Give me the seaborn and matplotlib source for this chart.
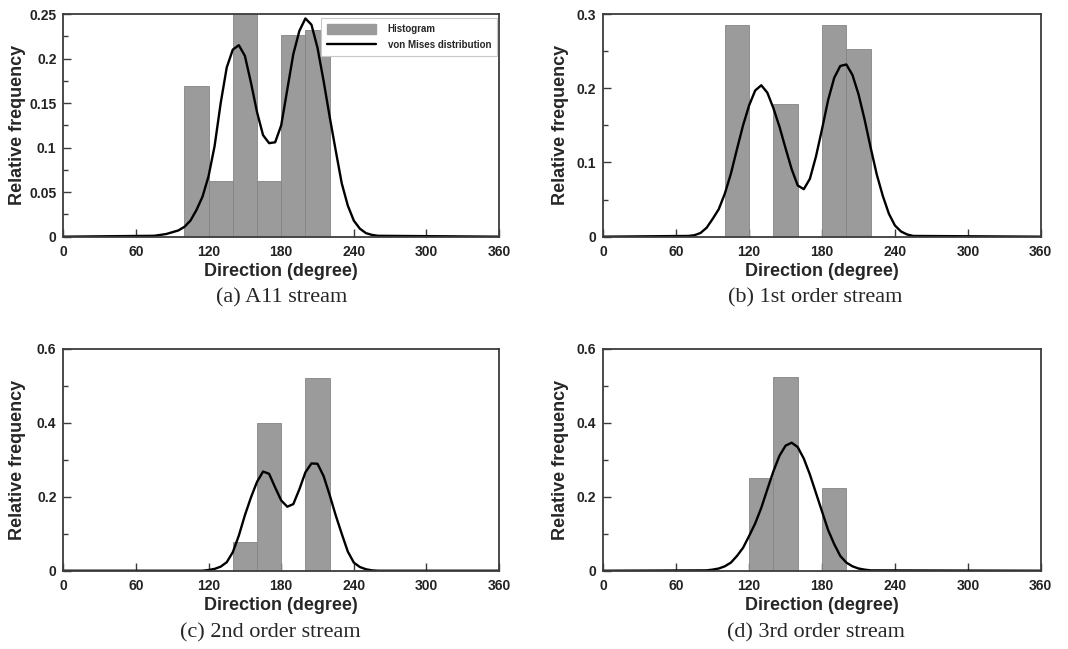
import numpy as np
import matplotlib
matplotlib.use("Agg")
import matplotlib.pyplot as plt
from matplotlib.ticker import AutoMinorLocator
from matplotlib.patches import Patch
from matplotlib.lines import Line2D
import seaborn as sns

# histogram bins (degree), 20 degree classes
bin_edges = [0, 20, 40, 60, 80, 100, 120, 140, 160, 180, 200, 220, 240, 260, 280, 300, 320, 340, 360]

# (a) all streams
a_bins = [110, 130, 150, 170, 190, 210]
a_freq = [0.169, 0.063, 0.256, 0.063, 0.226, 0.232]
a_deg = [0, 75, 80, 85, 90, 95, 100, 105, 110, 115, 120, 125, 130, 135, 140, 145, 150, 155, 160, 165,
         170, 175, 180, 185, 190, 195, 200, 205, 210, 215, 220, 225, 230, 235, 240, 245, 250, 255, 260, 360]
a_vm = [0, 0.001, 0.002, 0.003, 0.005, 0.007, 0.011, 0.018, 0.030, 0.045, 0.068, 0.102, 0.150, 0.190, 0.210,
        0.215, 0.203, 0.173, 0.140, 0.114, 0.105, 0.106, 0.125, 0.165, 0.205, 0.231, 0.245, 0.238, 0.212,
        0.175, 0.135, 0.097, 0.060, 0.035, 0.018, 0.009, 0.004, 0.002, 0.001, 0]

# (b) 1st order
b_bins = [110, 150, 190, 210]
b_freq = [0.285, 0.179, 0.285, 0.253]
b_deg = [0, 70, 75, 80, 85, 90, 95, 100, 105, 110, 115, 120, 125, 130, 135, 140, 145, 150, 155, 160, 165,
         170, 175, 180, 185, 190, 195, 200, 205, 210, 215, 220, 225, 230, 235, 240, 245, 250, 255, 360]
b_vm = [0, 0.001, 0.002, 0.005, 0.012, 0.024, 0.037, 0.058, 0.085, 0.118, 0.150, 0.177, 0.197, 0.204, 0.194,
        0.173, 0.148, 0.119, 0.091, 0.069, 0.064, 0.078, 0.108, 0.145, 0.184, 0.214, 0.230, 0.232, 0.218,
        0.192, 0.158, 0.120, 0.084, 0.055, 0.031, 0.015, 0.007, 0.003, 0.001, 0]

# (c) 2nd order
c_bins = [150, 170, 210]
c_freq = [0.078, 0.400, 0.520]
c_deg = [0, 115, 120, 125, 130, 135, 140, 145, 150, 155, 160, 165, 170, 175, 180, 185, 190, 195, 200, 205,
         210, 215, 220, 225, 230, 235, 240, 245, 250, 255, 260, 360]
c_vm = [0, 0.000, 0.002, 0.005, 0.011, 0.023, 0.050, 0.095, 0.150, 0.198, 0.240, 0.268, 0.262, 0.225, 0.190,
        0.173, 0.180, 0.220, 0.266, 0.290, 0.289, 0.256, 0.205, 0.150, 0.100, 0.052, 0.022, 0.010, 0.004,
        0.001, 0.000, 0]

# (d) 3rd order
d_bins = [130, 150, 190]
d_freq = [0.250, 0.524, 0.224]
d_deg = [0, 85, 90, 95, 100, 105, 110, 115, 120, 125, 130, 135, 140, 145, 150, 155, 160, 165, 170, 175,
         180, 185, 190, 195, 200, 205, 210, 215, 220, 360]
d_vm = [0, 0.001, 0.003, 0.006, 0.012, 0.022, 0.040, 0.062, 0.094, 0.128, 0.170, 0.220, 0.269, 0.311, 0.338,
        0.346, 0.334, 0.303, 0.260, 0.210, 0.160, 0.110, 0.072, 0.040, 0.022, 0.012, 0.006, 0.003, 0.001, 0]

x_ticks = [0, 60, 120, 180, 240, 300, 360]
y_ticks_a = [0, 0.05, 0.1, 0.15, 0.2, 0.25]
y_ticks_b = [0, 0.1, 0.2, 0.3]
y_ticks_cd = [0, 0.2, 0.4, 0.6]
captions = ["(a) A11 stream", "(b) 1st order stream", "(c) 2nd order stream", "(d) 3rd order stream"]

sns.set_style("ticks")
plt.rcParams["font.family"] = ["Liberation Sans", "DejaVu Sans"]
plt.rcParams["font.weight"] = "bold"

BAR = "#9b9b9b"
SPINE = "#3c3c3c"

fig = plt.figure(figsize=(10.68, 6.49), dpi=100)
rects = [[0.0593, 0.6353, 0.4080, 0.3431],
         [0.5649, 0.6353, 0.4096, 0.3431],
         [0.0593, 0.1206, 0.4080, 0.3421],
         [0.5649, 0.1206, 0.4096, 0.3421]]
panels = [(a_bins, a_freq, a_deg, a_vm, y_ticks_a),
          (b_bins, b_freq, b_deg, b_vm, y_ticks_b),
          (c_bins, c_freq, c_deg, c_vm, y_ticks_cd),
          (d_bins, d_freq, d_deg, d_vm, y_ticks_cd)]
cap_pos = [(0.2637, 0.5404), (0.763, 0.5404), (0.253, 0.0242), (0.764, 0.0242)]

for i, (bins, freq, deg, vm, yt) in enumerate(panels):
    ax = fig.add_axes(rects[i])
    sns.histplot(x=bins, weights=freq, bins=bin_edges, ax=ax, color=BAR, alpha=1,
                 edgecolor="#858585", linewidth=0.6)
    sns.lineplot(x=deg, y=vm, ax=ax, color="black", linewidth=1.7, estimator=None, sort=False)
    ax.set_xlim(0, 360)
    ax.set_ylim(yt[0], yt[-1])
    ax.set_xticks(x_ticks)
    ax.set_yticks(yt)
    ax.set_yticklabels([("%g" % v) for v in yt])
    ax.yaxis.set_minor_locator(AutoMinorLocator(2))
    ax.tick_params(axis="both", which="both", direction="in", labelsize=10, colors=SPINE,
                   labelcolor="#222222", width=1)
    ax.tick_params(axis="both", which="major", length=6)
    ax.tick_params(axis="y", which="major", pad=5)
    ax.tick_params(axis="x", which="major", pad=6)
    ax.tick_params(axis="y", which="minor", length=3.5)
    for s in ax.spines.values():
        s.set_visible(True)
        s.set_color(SPINE)
        s.set_linewidth(1.3)
    ax.set_xlabel("Direction (degree)", fontsize=13, fontweight="bold", labelpad=3)
    ax.set_ylabel("Relative frequency", fontsize=13, fontweight="bold")
    ax.yaxis.set_label_coords(-0.085 if i % 2 == 0 else -0.079, 0.5)
    fig.text(cap_pos[i][0], cap_pos[i][1], captions[i], ha="center", va="center",
             fontsize=16, fontweight="normal", family=["Liberation Serif", "DejaVu Serif"])
    if i == 0:
        handles = [Patch(facecolor=BAR, edgecolor=BAR),
                   Line2D([], [], color="black", linewidth=1.7)]
        leg = ax.legend(handles, ["Histogram", "von Mises distribution"], loc="upper right",
                        bbox_to_anchor=(0.995, 0.982), borderaxespad=0, fontsize=7,
                        handlelength=5, handleheight=1.3, fancybox=False, framealpha=1,
                        edgecolor="#c8c8c8", borderpad=0.6, labelspacing=0.5, handletextpad=1.2)
        leg.get_frame().set_linewidth(0.8)
        for t in leg.get_texts():
            t.set_fontweight("bold")

fig.savefig("out.png", dpi=100)
